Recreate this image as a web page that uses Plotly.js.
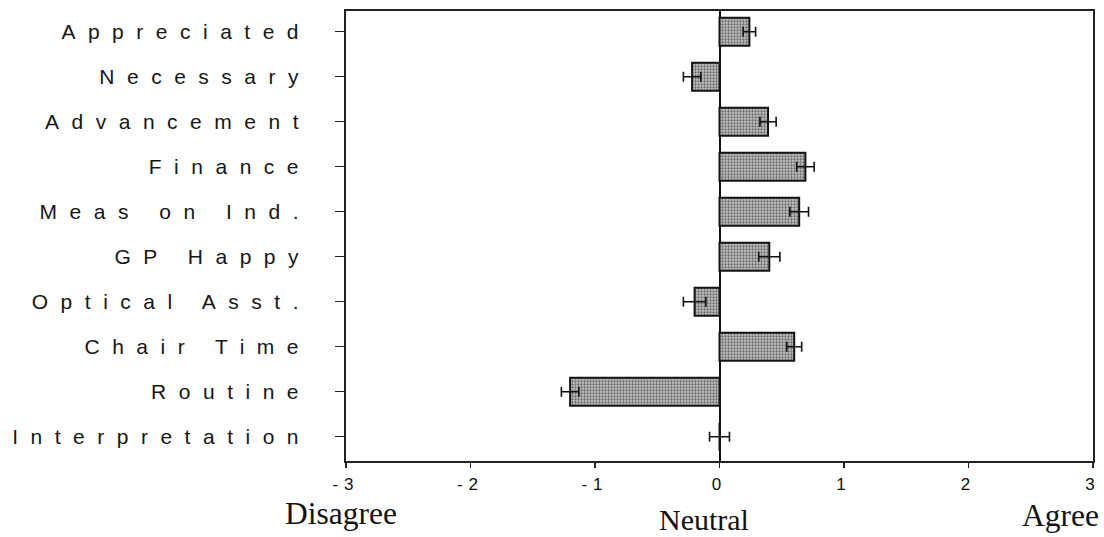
<!DOCTYPE html>
<html>
<head>
<meta charset="utf-8">
<script src="https://cdn.plot.ly/plotly-3.0.1.min.js"></script>
<style>
  html, body { margin: 0; padding: 0; background: #fff; }
  #chart { width: 1104px; height: 537px; }
  /* wide tracking on the axis labels */
  #chart .ytick text { letter-spacing: 12.5px; }
  #chart .xtick text { letter-spacing: 6px; }
</style>
</head>
<body>
<div id="chart"></div>
<script>
// Survey items, top to bottom
const items = ['Appreciated', 'Necessary', 'Advancement', 'Finance', 'Meas on Ind.',
               'GP Happy', 'Optical Asst.', 'Chair Time', 'Routine', 'Interpretation'];
// Mean agreement score (-3 disagree ... +3 agree)
const meanScore = [0.24, -0.22, 0.39, 0.69, 0.64, 0.40, -0.20, 0.60, -1.20, 0.00];
// Standard error of each mean
const stdErr = [0.05, 0.07, 0.065, 0.07, 0.075, 0.085, 0.09, 0.06, 0.07, 0.08];
// Scale ticks
const scaleVals = [-3, -2, -1, 0, 1, 2, 3];
const scaleText = ['-3', '-2', '-1', '0', '1', '2', '3'];
// Anchor words under the scale
const anchorWords = ['Disagree', 'Neutral', 'Agree'];

const trace = {
  type: 'bar',
  orientation: 'h',
  y: items,
  x: meanScore,
  width: 0.62,
  marker: {
    color: '#b8b8b8',
    line: { color: '#141414', width: 2 },
    pattern: { shape: '.', fgcolor: '#6a6a6a', bgcolor: '#c4c4c4', size: 3, solidity: 0.45 }
  },
  error_x: { type: 'data', array: stdErr, visible: true, color: '#111', thickness: 1.6, width: 5 },
  hoverinfo: 'skip'
};

const serif = { family: '"Liberation Serif", "DejaVu Serif", serif', size: 31.5, color: '#111' };
const serifSmall = { family: '"Liberation Serif", "DejaVu Serif", serif', size: 30, color: '#111' };

const layout = {
  width: 1104,
  height: 537,
  margin: { l: 346, r: 11, t: 11, b: 76 },
  paper_bgcolor: '#fff',
  plot_bgcolor: '#fff',
  showlegend: false,
  xaxis: {
    range: [-3, 3],
    tickvals: scaleVals,
    ticktext: scaleText,
    ticks: 'outside',
    ticklen: 5,
    tickwidth: 1.5,
    tickcolor: '#222',
    showgrid: false,
    zeroline: true,
    zerolinecolor: '#111',
    zerolinewidth: 2,
    showline: true,
    mirror: true,
    linecolor: '#222',
    linewidth: 1.8,
    ticklabelstandoff: 2,
    tickfont: { family: '"Liberation Sans", Arial, sans-serif', size: 17, color: '#111' },
    fixedrange: true
  },
  yaxis: {
    type: 'category',
    categoryorder: 'array',
    categoryarray: items,
    range: [9.54, -0.46],
    ticks: 'outside',
    ticklen: 9,
    tickwidth: 1.5,
    tickcolor: '#222',
    showgrid: false,
    zeroline: false,
    showline: true,
    mirror: true,
    linecolor: '#222',
    linewidth: 1.8,
    ticklabelstandoff: 20,
    tickfont: { family: '"Liberation Sans", Arial, sans-serif', size: 21, color: '#161616' },
    fixedrange: true
  },
  annotations: [
    { text: anchorWords[0], xref: 'paper', yref: 'paper', x: -0.007, y: -0.076, xanchor: 'center', yanchor: 'top', borderpad: 0, showarrow: false, font: serif },
    { text: anchorWords[1], xref: 'paper', yref: 'paper', x: 0.479, y: -0.168, xanchor: 'center', yanchor: 'bottom', borderpad: 0, showarrow: false, font: serifSmall },
    { text: anchorWords[2], xref: 'paper', yref: 'paper', x: 0.956, y: -0.121, xanchor: 'center', yanchor: 'middle', borderpad: 0, showarrow: false, font: serif }
  ]
};

Plotly.newPlot('chart', [trace], layout, { displayModeBar: false, staticPlot: true });
</script>
</body>
</html>
